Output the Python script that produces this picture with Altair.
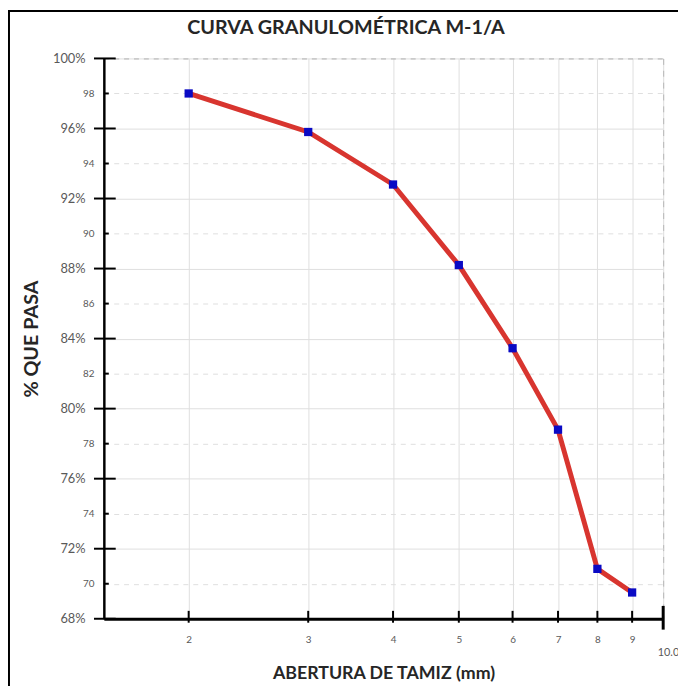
import altair as alt
import pandas as pd

# ---- data ----
abertura_mm = [2, 3, 4, 5, 6, 7, 8, 9]
pct_pasa = [98.0, 95.8, 92.8, 88.2, 83.45, 78.8, 70.85, 69.5]
y_tick_values = list(range(68, 101, 2))
x_tick_values = [2, 3, 4, 5, 6, 7, 8, 9, 10]

TITLE = "CURVA GRANULOMÉTRICA M-1/A"
X_TITLE = "ABERTURA DE TAMIZ (mm)"
Y_TITLE = "% QUE PASA"

W, H = 566, 567
FONT = "Lato"
LABEL_GRAY = "#595959"

df = pd.DataFrame({"abertura": abertura_mm, "pasa": pct_pasa})
ydf = pd.DataFrame({"pasa": y_tick_values})
xdf = pd.DataFrame({"abertura": x_tick_values})
frame_df = pd.DataFrame({"k": [0]})

xscale = alt.Scale(type="log", domain=[1.5, 10], nice=False)
yscale = alt.Scale(domain=[68, 100], nice=False, zero=False)

x_axis = alt.Axis(
    values=x_tick_values,
    ticks=False,
    domainColor="black",
    domainWidth=3,
    grid=True,
    gridColor={"expr": "datum.value == 10 ? '#b8b8b8' : '#dedede'"},
    gridDash={"expr": "datum.value == 10 ? [6, 6] : []"},
    gridWidth=1,
    labelExpr="datum.value == 10 ? '10.00' : datum.label",
    labelFontSize={"expr": "datum.value == 10 ? 11 : 10"},
    labelPadding={"expr": "datum.value == 10 ? 28 : 16"},
    labelAlign={"expr": "datum.value == 10 ? 'left' : 'center'"},
    labelOffset={"expr": "datum.value == 10 ? -6 : 0"},
    labelColor=LABEL_GRAY,
    labelFont=FONT,
    labelFlush=False,
    labelOverlap=False,
    titleFont=FONT,
    titleFontSize=18,
    titleFontWeight="bold",
    titleColor="#262626",
    titleX=W / 2,
    titleY=55,
    titleBaseline="middle",
    titleAlign="center",
)

y_axis = alt.Axis(
    values=y_tick_values,
    ticks=False,
    domainColor="black",
    domainWidth=2.5,
    grid=True,
    gridColor={"expr": "datum.value == 100 ? '#b0b0b0' : '#dedede'"},
    gridDash={"expr": "(datum.value % 4 == 0 && datum.value < 100) ? [] : [5, 5]"},
    gridWidth=1,
    labelExpr="datum.value % 4 == 0 ? datum.value + '%' : datum.value",
    labelFontSize={"expr": "datum.value % 4 == 0 ? 13 : 10"},
    labelPadding={"expr": "datum.value % 4 == 0 ? 19 : 10"},
    labelColor=LABEL_GRAY,
    labelFont=FONT,
    labelOverlap=False,
    labelFlush=False,
    titleFont=FONT,
    titleFontSize=20,
    titleFontWeight="bold",
    titleColor="#262626",
    titleAngle=270,
    titleX=-73,
    titleY=H / 2,
    titleAlign="center",
    titleBaseline="middle",
)


def X():
    return alt.X("abertura:Q", scale=xscale, axis=x_axis, title=X_TITLE)


def Y():
    return alt.Y("pasa:Q", scale=yscale, axis=y_axis, title=Y_TITLE)


line = alt.Chart(df).mark_line(color="#d8352f", strokeWidth=5).encode(x=X(), y=Y())
points = alt.Chart(df).mark_square(color="#0a0ac4", size=70, opacity=1).encode(x=X(), y=Y())

y_major = (
    alt.Chart(ydf)
    .transform_filter("datum.pasa % 4 == 0")
    .mark_rule(color="black", strokeWidth=2)
    .encode(y=Y(), x=alt.value(-10), x2=alt.value(12))
)
y_minor = (
    alt.Chart(ydf)
    .transform_filter("datum.pasa % 4 != 0")
    .mark_rule(color="black", strokeWidth=2)
    .encode(y=Y(), x=alt.value(0), x2=alt.value(5))
)
x_minor = (
    alt.Chart(xdf)
    .transform_filter("datum.abertura < 10")
    .mark_rule(color="black", strokeWidth=2)
    .encode(x=X(), y=alt.value(H - 8), y2=alt.value(H + 4))
)
x_end = (
    alt.Chart(xdf)
    .transform_filter("datum.abertura == 10")
    .mark_rule(color="black", strokeWidth=3)
    .encode(x=X(), y=alt.value(H - 13), y2=alt.value(H + 11))
)
frame = (
    alt.Chart(frame_df)
    .mark_rect(fill="transparent", stroke="black", strokeWidth=2)
    .encode(x=alt.value(-96), x2=alt.value(W + 60), y=alt.value(-48), y2=alt.value(H + 80))
)

chart = (
    alt.layer(frame, line, y_major, y_minor, x_minor, x_end, points)
    .properties(
        width=W,
        height=H,
        autosize=alt.AutoSizeParams(type="none"),
        padding={"left": 97, "top": 47, "right": 15, "bottom": 64},
        title=alt.TitleParams(
            TITLE,
            font=FONT,
            fontSize=20,
            fontWeight="bold",
            color="#262626",
            anchor="middle",
            frame="group",
            dx=-38,
            offset=0,
            dy=28,
        ),
    )
    .configure_view(stroke=None)
    .configure(background="white")
)

chart.save("out.html", embed_options={"renderer": "svg", "actions": False})
